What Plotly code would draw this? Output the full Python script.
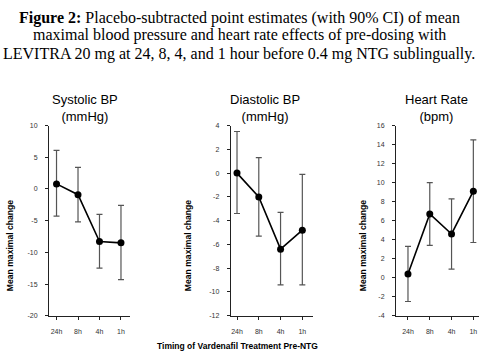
import plotly.graph_objects as go

# ---- data ----
timing = ["24h", "8h", "4h", "1h"]

systolic_mean = [0.8, -0.9, -8.3, -8.5]
systolic_upper = [6.1, 3.4, -4.0, -2.6]
systolic_lower = [-4.3, -5.2, -12.5, -14.3]

diastolic_mean = [0.0, -2.0, -6.4, -4.8]
diastolic_upper = [3.5, 1.3, -3.3, -0.1]
diastolic_lower = [-3.4, -5.3, -9.4, -9.4]

hr_mean = [0.4, 6.7, 4.6, 9.1]
hr_upper = [3.3, 10.0, 8.3, 14.5]
hr_lower = [-2.5, 3.4, 0.9, 3.7]

systolic_ticks = [10, 5, 0, -5, -10, -15, -20]
diastolic_ticks = [4, 2, 0, -2, -4, -6, -8, -10, -12]
hr_ticks = [16, 14, 12, 10, 8, 6, 4, 2, 0, -2, -4]

panel_titles = ["Systolic BP<br>(mmHg)", "Diastolic BP<br>(mmHg)", "Heart Rate<br>(bpm)"]
y_title = "Mean maximal change"
x_title = "Timing of Vardenafil Treatment Pre-NTG"
title_lines = [
    "<b>Figure 2:</b> Placebo-subtracted point estimates (with 90% CI) of mean",
    "maximal blood pressure and heart rate effects of pre-dosing with",
    "LEVITRA 20 mg at 24, 8, 4, and 1 hour before 0.4 mg NTG sublingually.",
]

# ---- layout helpers ----
W, H = 480, 356
def px_x(v):
    return v / W
def px_y(v):
    return 1 - v / H

panels = [
    dict(mean=systolic_mean, up=systolic_upper, lo=systolic_lower, ticks=systolic_ticks,
         yr=[-20, 10], xd=[49, 130], xr=[-0.35, 3.42], title_x=85, ytitle_x=10),
    dict(mean=diastolic_mean, up=diastolic_upper, lo=diastolic_lower, ticks=diastolic_ticks,
         yr=[-12, 4], xd=[230.7, 313], xr=[-0.29, 3.49], title_x=265, ytitle_x=188),
    dict(mean=hr_mean, up=hr_upper, lo=hr_lower, ticks=hr_ticks,
         yr=[-4, 16], xd=[396, 479], xr=[-0.55, 3.26], title_x=436, ytitle_x=363),
]

TOP_PX, BOT_PX = 124, 318
xidx = list(range(len(timing)))

fig = go.Figure()
layout = dict(
    width=W, height=H,
    margin=dict(l=0, r=0, t=0, b=0),
    paper_bgcolor="white", plot_bgcolor="white",
    showlegend=False,
    font=dict(family="Liberation Sans, Arial, sans-serif", color="black"),
)
annotations = []

for i, p in enumerate(panels):
    n = "" if i == 0 else str(i + 1)
    err_plus = [u - m for u, m in zip(p["up"], p["mean"])]
    err_minus = [m - l for m, l in zip(p["mean"], p["lo"])]
    fig.add_trace(go.Scatter(
        x=xidx, y=p["mean"], mode="lines+markers",
        xaxis="x" + n, yaxis="y" + n,
        line=dict(color="black", width=1.6),
        marker=dict(color="black", size=7),
        error_y=dict(type="data", symmetric=False, array=err_plus, arrayminus=err_minus,
                     color="#555555", thickness=1.2, width=3),
        cliponaxis=False,
    ))
    layout["xaxis" + n] = dict(
        domain=[px_x(p["xd"][0]), px_x(p["xd"][1])],
        anchor="y" + n, range=p["xr"],
        tickmode="array", tickvals=xidx, ticktext=timing,
        showline=True, linecolor="#222222", linewidth=1,
        ticks="outside", ticklen=3, tickcolor="#222222",
        showgrid=False, zeroline=False,
        tickfont=dict(size=7, color="#333333"),
        ticklabelstandoff=6,
        fixedrange=True,
    )
    layout["yaxis" + n] = dict(
        domain=[px_y(BOT_PX), px_y(TOP_PX)],
        anchor="x" + n, range=p["yr"],
        tickmode="array", tickvals=p["ticks"], ticktext=[str(t) for t in p["ticks"]],
        showline=True, linecolor="#222222", linewidth=1,
        ticks="outside", ticklen=3, tickcolor="#222222",
        showgrid=False, zeroline=False,
        tickfont=dict(size=7, color="#333333"),
        ticklabelstandoff=6,
        fixedrange=True,
    )
    annotations.append(dict(
        text=panel_titles[i], x=px_x(p["title_x"]), y=px_y(106.5),
        xref="paper", yref="paper", xanchor="center", yanchor="middle",
        showarrow=False, font=dict(size=13, color="black"),
    ))
    annotations.append(dict(
        text="<b>" + y_title + "</b>", x=px_x(p["ytitle_x"]), y=px_y(247),
        xref="paper", yref="paper", xanchor="center", yanchor="middle",
        textangle=-90, showarrow=False, font=dict(size=8.6, color="black"),
    ))

annotations.append(dict(
    text="<b>" + x_title + "</b>", x=px_x(237), y=px_y(349),
    xref="paper", yref="paper", xanchor="center", yanchor="middle",
    showarrow=False, font=dict(size=8.5, color="black"),
))

for k, (line, yc) in enumerate(zip(title_lines, [14, 32, 51])):
    annotations.append(dict(
        text=line, x=px_x(239), y=px_y(yc),
        xref="paper", yref="paper", xanchor="center", yanchor="middle",
        showarrow=False,
        font=dict(size=16.0, family="Liberation Serif, Times New Roman, serif", color="black"),
    ))

layout["annotations"] = annotations
fig.update_layout(**layout)
fig.write_html(
    "out.html",
    config={"displayModeBar": False},
    post_script="document.body.style.margin='0';document.body.style.overflow='hidden';",
)
